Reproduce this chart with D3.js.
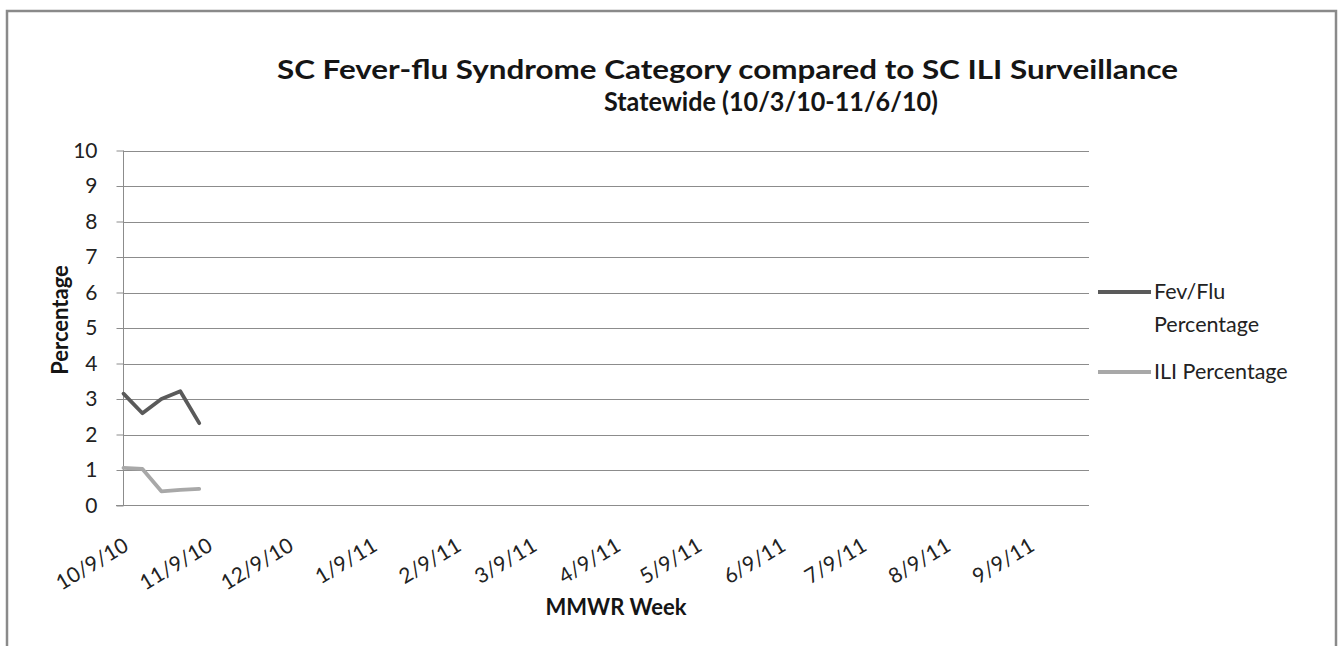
<!DOCTYPE html>
<html><head><meta charset="utf-8">
<script src="https://cdn.jsdelivr.net/npm/d3@7/dist/d3.min.js"></script>
<style>html,body{margin:0;padding:0;background:#fff;}svg{display:block;font-family:Lato,"Open Sans",sans-serif;}</style>
</head><body>
<script>
// ---- data ----
const weekDates = ["2010-10-09","2010-10-16","2010-10-23","2010-10-30","2010-11-06"];
const fevFlu = [3.15, 2.6, 3.0, 3.22, 2.32];
const ili = [1.06, 1.03, 0.40, 0.44, 0.47];
const axisStart = "2010-10-09", axisEnd = "2011-10-01";
const tickDates = ["2010-10-09","2010-11-09","2010-12-09","2011-01-09","2011-02-09","2011-03-09","2011-04-09","2011-05-09","2011-06-09","2011-07-09","2011-08-09","2011-09-09"];
const tickLabels = ["10/9/10","11/9/10","12/9/10","1/9/11","2/9/11","3/9/11","4/9/11","5/9/11","6/9/11","7/9/11","8/9/11","9/9/11"];
const yTicks = [0,1,2,3,4,5,6,7,8,9,10];
const seriesNames = [["Fev/Flu","Percentage"],["ILI Percentage"]];
const titleLines = ["SC Fever-flu Syndrome Category compared to SC ILI Surveillance","Statewide (10/3/10-11/6/10)"];

const W = 1338, H = 646;
const parse = d3.utcParse("%Y-%m-%d");
const svg = d3.select("body").append("svg").attr("width", W).attr("height", H);

// outer chart border
svg.append("rect").attr("x",7).attr("y",11).attr("width",1329).attr("height",700)
  .attr("fill","#fff").attr("stroke","#8a8a8a").attr("stroke-width",2.5);

const x = d3.scaleUtc().domain([parse(axisStart), parse(axisEnd)]).range([123.5, 1089]);
const y = d3.scaleLinear().domain([0,10]).range([505.5, 150.5]);

const gridC = "#8c8c8c";
// gridlines
svg.append("g").selectAll("line").data(yTicks.filter(d=>d>0)).join("line")
  .attr("x1",123.5).attr("x2",1089).attr("y1",d=>Math.round(y(d))+0.5).attr("y2",d=>Math.round(y(d))+0.5)
  .attr("stroke",gridC).attr("stroke-width",1);

// y axis
const yAxis = d3.axisLeft(y).tickValues(yTicks).tickSize(7).tickPadding(19).tickFormat(d3.format("d"));
const gy = svg.append("g").attr("transform","translate(123.5,0)").call(yAxis);
gy.select(".domain").attr("stroke",gridC).attr("d","M0,150.5V505.5");
gy.selectAll(".tick line").attr("stroke",gridC);
gy.selectAll(".tick text").attr("font-size",21).attr("fill","#222").attr("font-family","Lato");

// x axis line
const xAxis = d3.axisBottom(x).tickValues(tickDates.map(parse)).tickSize(0).tickFormat((d,i)=>tickLabels[i]);
const gx = svg.append("g").attr("transform","translate(0,505.5)").call(xAxis);
gx.select(".domain").attr("stroke",gridC).attr("d","M116,0H1089");
gx.selectAll(".tick text").attr("font-size",21).attr("fill","#222").attr("font-family","Lato")
  .attr("text-anchor","end").attr("dy",0).attr("y",0)
  .attr("transform","translate(6,44) rotate(-31)");

// lines
const line = d3.line().x((d,i)=>x(parse(weekDates[i]))).y(d=>y(d));
svg.append("path").datum(fevFlu).attr("d",line).attr("fill","none").attr("stroke","#5a5a5a")
  .attr("stroke-width",3.8).attr("stroke-linejoin","round").attr("stroke-linecap","round");
svg.append("path").datum(ili).attr("d",line).attr("fill","none").attr("stroke","#a8a8a8")
  .attr("stroke-width",3.8).attr("stroke-linejoin","round").attr("stroke-linecap","round");

// title
svg.append("text").attr("x",277).attr("y",79).attr("font-size",27).attr("font-weight",700)
  .attr("fill","#151515").attr("textLength",901).attr("lengthAdjust","spacingAndGlyphs").text(titleLines[0]);
svg.append("text").attr("x",604).attr("y",111).attr("font-size",27).attr("font-weight",700)
  .attr("fill","#151515").attr("textLength",334).attr("lengthAdjust","spacingAndGlyphs").text(titleLines[1]);

// axis titles
svg.append("text").attr("transform","translate(68,320) rotate(-90)").attr("text-anchor","middle")
  .attr("font-size",22).attr("font-weight",700).attr("fill","#151515").text("Percentage");
svg.append("text").attr("x",616).attr("y",615).attr("text-anchor","middle")
  .attr("font-size",22).attr("font-weight",700).attr("fill","#151515").text("MMWR Week");

// legend
const legC = ["#5a5a5a","#a8a8a8"], legY = [292, 372];
seriesNames.forEach((lines, k) => {
  svg.append("line").attr("x1",1098).attr("x2",1151).attr("y1",legY[k]).attr("y2",legY[k])
    .attr("stroke",legC[k]).attr("stroke-width",3.8);
  const t = svg.append("text").attr("x",1154).attr("y",legY[k]+7).attr("font-size",21.5).attr("fill","#222");
  lines.forEach((s,j)=>t.append("tspan").attr("x",1154).attr("dy", j===0?0:33).text(s));
});
</script>
</body></html>
